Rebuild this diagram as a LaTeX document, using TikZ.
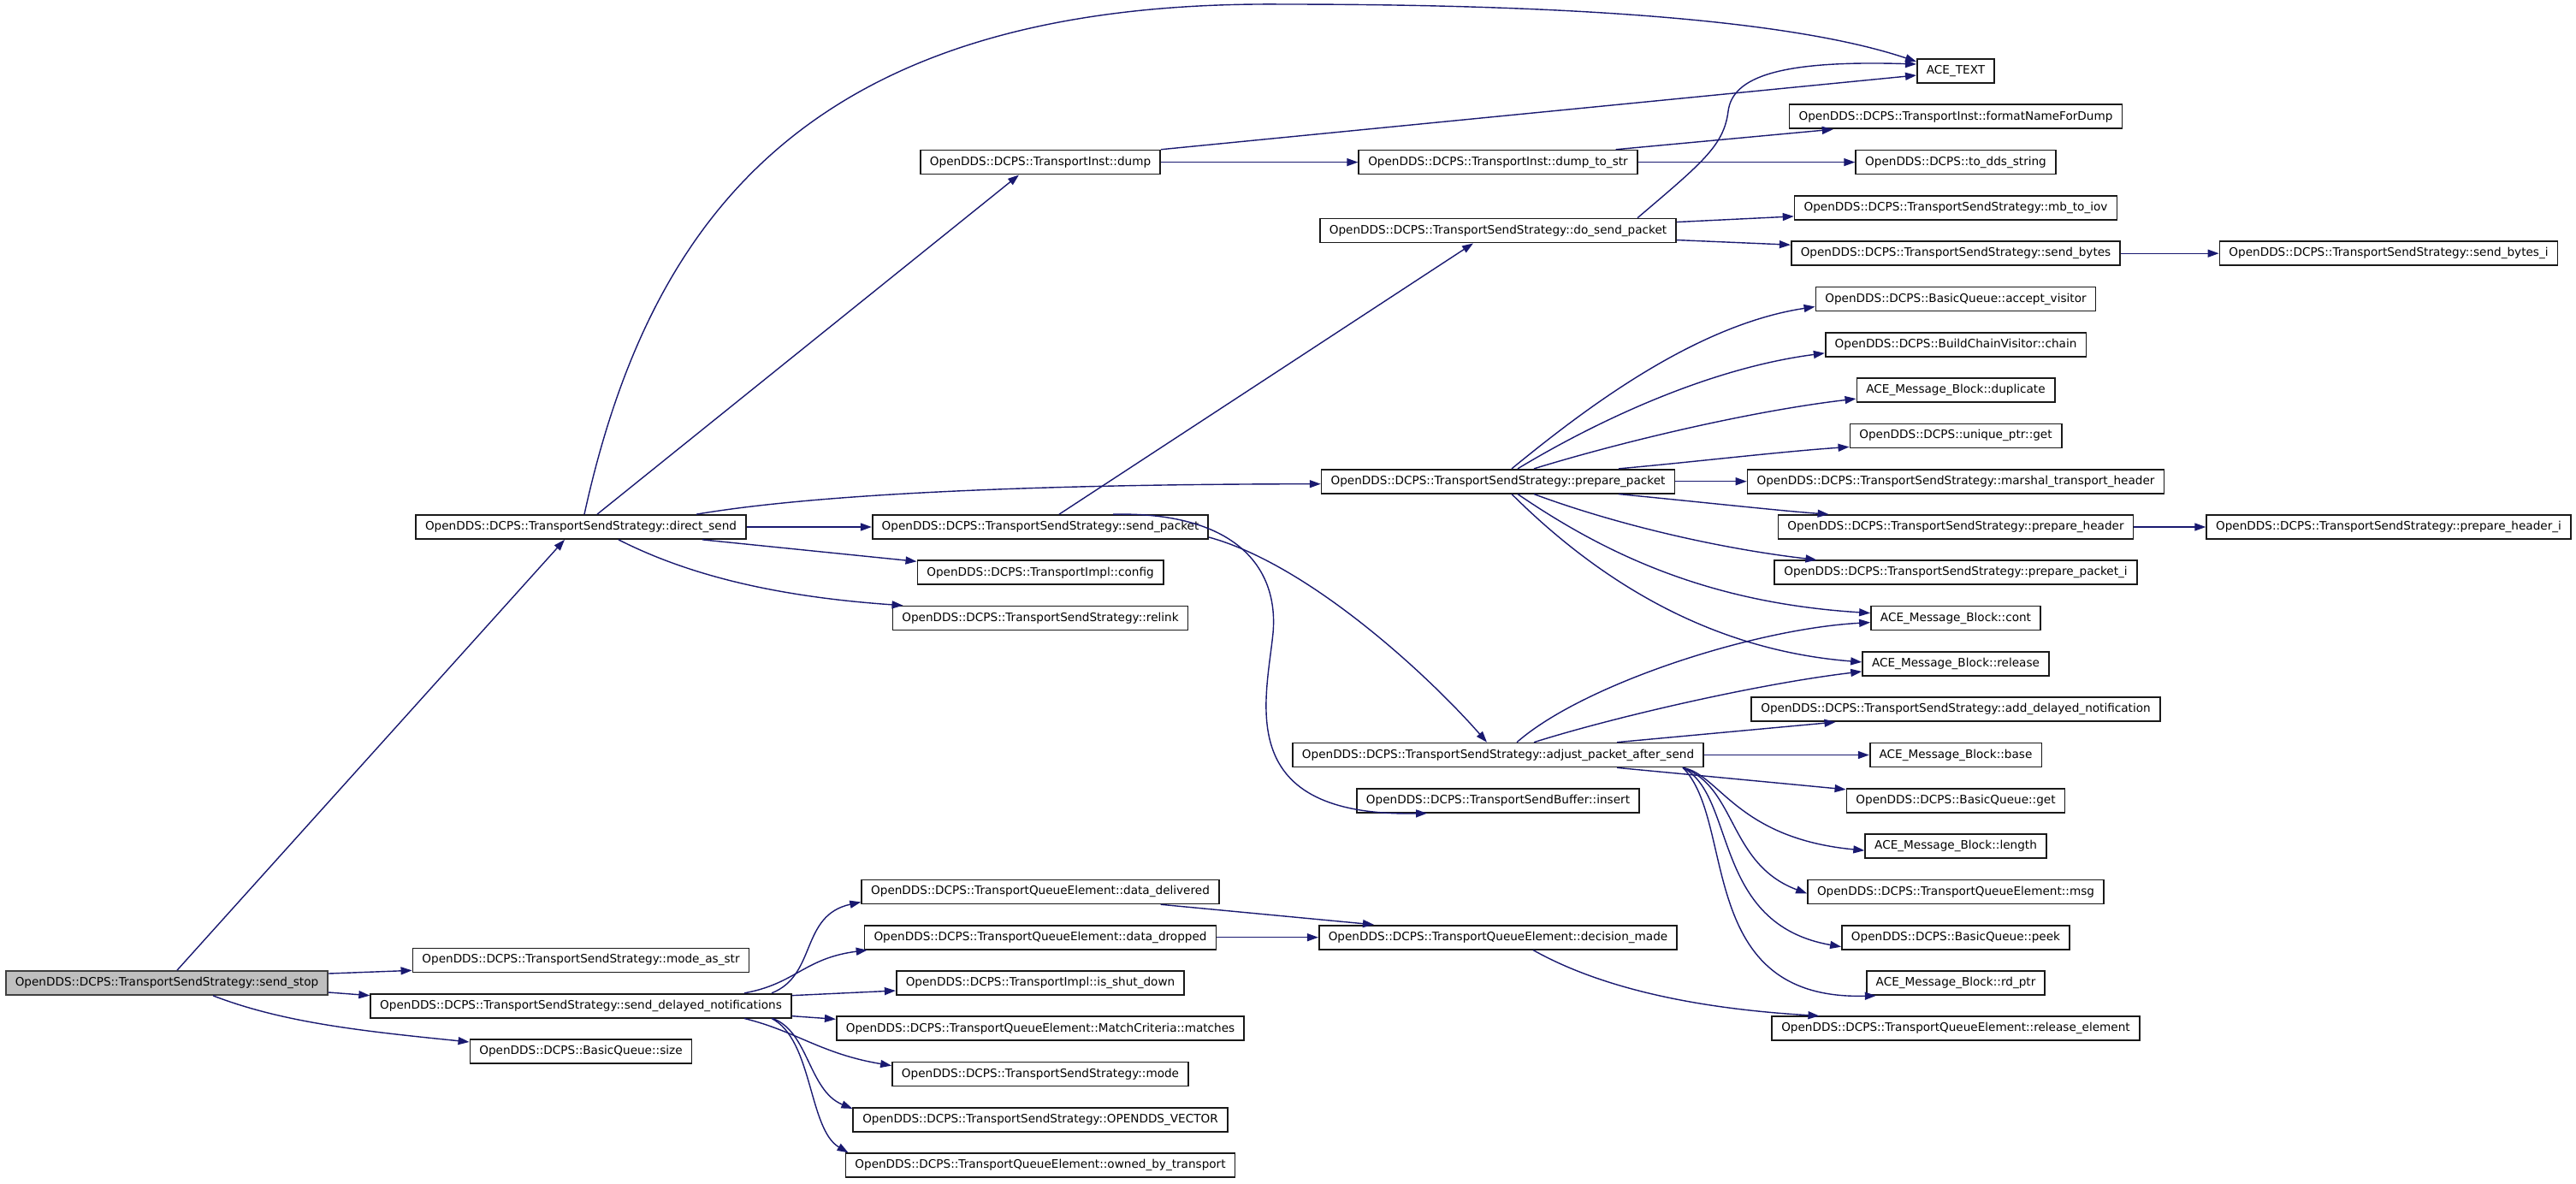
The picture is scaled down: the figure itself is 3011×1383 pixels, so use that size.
\documentclass[tikz,border=0pt]{standalone}
\usepackage{fontspec}
\newfontfamily\dvs{DejaVu Sans}
\usepackage{xcolor}
\usepackage{tikz}
\usetikzlibrary{arrows.meta}
\definecolor{callblue}{HTML}{191970}
\definecolor{selfgray}{HTML}{BFBFBF}

\begin{document}
\begin{tikzpicture}[x=0.5pt,y=-0.5pt]
      \tikzstyle{func}=[draw=black!90,line width=0.85pt,fill=white,minimum height=14pt,inner xsep=5.5pt,inner ysep=0pt,font=\dvs\fontsize{6.8}{8}\selectfont]
      \tikzstyle{self}=[func,draw=black!75,fill=selfgray]
      \tikzstyle{call}=[draw=callblue,line width=0.7pt,-{Triangle[length=6.5pt,width=4.5pt]}]
      \useasboundingbox (0,0) rectangle (3011,1383);
      \node[self] (ss) at (195,1149) {OpenDDS::DCPS::TransportSendStrategy::send\_stop};
      \node[func] (ds) at (679,616) {OpenDDS::DCPS::TransportSendStrategy::direct\_send};
      \node[func] (mas) at (679,1122.35) {OpenDDS::DCPS::TransportSendStrategy::mode\_as\_str};
      \node[func] (sdn) at (679,1175.65) {OpenDDS::DCPS::TransportSendStrategy::send\_delayed\_notifications};
      \node[func] (qsize) at (679,1228.95) {OpenDDS::DCPS::BasicQueue::size};
      \node[func] (dump) at (1216,189.6) {OpenDDS::DCPS::TransportInst::dump};
      \node[func] (sp) at (1216,616) {OpenDDS::DCPS::TransportSendStrategy::send\_packet};
      \node[func] (cfg) at (1216,669.3) {OpenDDS::DCPS::TransportImpl::config};
      \node[func] (relink) at (1216,722.6) {OpenDDS::DCPS::TransportSendStrategy::relink};
      \node[func] (dd) at (1216,1042.4) {OpenDDS::DCPS::TransportQueueElement::data\_delivered};
      \node[func] (ddr) at (1216,1095.7) {OpenDDS::DCPS::TransportQueueElement::data\_dropped};
      \node[func] (isd) at (1216,1149) {OpenDDS::DCPS::TransportImpl::is\_shut\_down};
      \node[func] (mcm) at (1216,1202.3) {OpenDDS::DCPS::TransportQueueElement::MatchCriteria::matches};
      \node[func] (mode) at (1216,1255.6) {OpenDDS::DCPS::TransportSendStrategy::mode};
      \node[func] (ovec) at (1216,1308.9) {OpenDDS::DCPS::TransportSendStrategy::OPENDDS\_VECTOR};
      \node[func] (obt) at (1216,1362.2) {OpenDDS::DCPS::TransportQueueElement::owned\_by\_transport};
      \node[func] (dts) at (1751,189.6) {OpenDDS::DCPS::TransportInst::dump\_to\_str};
      \node[func] (dsp) at (1751,269.55) {OpenDDS::DCPS::TransportSendStrategy::do\_send\_packet};
      \node[func] (pp) at (1751,562.7) {OpenDDS::DCPS::TransportSendStrategy::prepare\_packet};
      \node[func] (apas) at (1751,882.5) {OpenDDS::DCPS::TransportSendStrategy::adjust\_packet\_after\_send};
      \node[func] (sbins) at (1751,935.8) {OpenDDS::DCPS::TransportSendBuffer::insert};
      \node[func] (dm) at (1751,1095.7) {OpenDDS::DCPS::TransportQueueElement::decision\_made};
      \node[func] (acetext) at (2286,83) {ACE\_TEXT};
      \node[func] (fnfd) at (2286,136.3) {OpenDDS::DCPS::TransportInst::formatNameForDump};
      \node[func] (tdds) at (2286,189.6) {OpenDDS::DCPS::to\_dds\_string};
      \node[func] (mbiov) at (2286,242.9) {OpenDDS::DCPS::TransportSendStrategy::mb\_to\_iov};
      \node[func] (sbytes) at (2286,296.2) {OpenDDS::DCPS::TransportSendStrategy::send\_bytes};
      \node[func] (accv) at (2286,349.5) {OpenDDS::DCPS::BasicQueue::accept\_visitor};
      \node[func] (bcvc) at (2286,402.8) {OpenDDS::DCPS::BuildChainVisitor::chain};
      \node[func] (dup) at (2286,456.1) {ACE\_Message\_Block::duplicate};
      \node[func] (upget) at (2286,509.4) {OpenDDS::DCPS::unique\_ptr::get};
      \node[func] (mth) at (2286,562.7) {OpenDDS::DCPS::TransportSendStrategy::marshal\_transport\_header};
      \node[func] (ph) at (2286,616) {OpenDDS::DCPS::TransportSendStrategy::prepare\_header};
      \node[func] (ppi) at (2286,669.3) {OpenDDS::DCPS::TransportSendStrategy::prepare\_packet\_i};
      \node[func] (cont) at (2286,722.6) {ACE\_Message\_Block::cont};
      \node[func] (rel) at (2286,775.9) {ACE\_Message\_Block::release};
      \node[func] (adn) at (2286,829.2) {OpenDDS::DCPS::TransportSendStrategy::add\_delayed\_notification};
      \node[func] (base) at (2286,882.5) {ACE\_Message\_Block::base};
      \node[func] (qget) at (2286,935.8) {OpenDDS::DCPS::BasicQueue::get};
      \node[func] (len) at (2286,989.1) {ACE\_Message\_Block::length};
      \node[func] (msg) at (2286,1042.4) {OpenDDS::DCPS::TransportQueueElement::msg};
      \node[func] (peek) at (2286,1095.7) {OpenDDS::DCPS::BasicQueue::peek};
      \node[func] (rdptr) at (2286,1149) {ACE\_Message\_Block::rd\_ptr};
      \node[func] (rele) at (2286,1202.3) {OpenDDS::DCPS::TransportQueueElement::release\_element};
      \node[func] (sbi) at (2792,296.2) {OpenDDS::DCPS::TransportSendStrategy::send\_bytes\_i};
      \node[func] (phi) at (2792,616) {OpenDDS::DCPS::TransportSendStrategy::prepare\_header\_i};
      \draw[call] ([shift={(12,0)}]ss.north) -- ([shift={(-19,0)}]ds.south);
      \draw[call] ([shift={(0,-11)}]ss.east) -- ([shift={(0,12)}]mas.west);
      \draw[call] ([shift={(0,11)}]ss.east) -- ([shift={(0,-12)}]sdn.west);
      \draw[call] ([shift={(54,0)}]ss.south) .. controls (330,1195) and (420,1205) .. ([shift={(0,-11)}]qsize.west);
      \draw[call] ([shift={(4,0)}]ds.north) .. controls (760,250) and (950,0) .. (1500,5) .. controls (1850,5) and (2100,25) .. ([shift={(0,-11)}]acetext.west);
      \draw[call] ([shift={(19,0)}]ds.north) -- ([shift={(-25,0)}]dump.south);
      \draw[call] ([shift={(135,0)}]ds.north) .. controls (950,578) and (1200,566) .. ([shift={(0,3)}]pp.west);
      \draw[call] (ds) -- (sp);
      \draw[call] ([shift={(142,0)}]ds.south) -- ([shift={(0,-13)}]cfg.west);
      \draw[call] ([shift={(44,0)}]ds.south) .. controls (800,670) and (900,697) .. ([shift={(13,0)}]relink.north west);
      \draw[call] (dump.north east) -- ([shift={(0,5)}]acetext.west);
      \draw[call] (dump) -- (dts);
      \draw[call] ([shift={(-26,0)}]dts.north east) -- ([shift={(52,0)}]fnfd.south west);
      \draw[call] (dts) -- (tdds);
      \draw[call] ([shift={(22,0)}]sp.north) -- ([shift={(-29,0)}]dsp.south);
      \draw[call] ([shift={(0,12)}]sp.east) .. controls (1530,660) and (1670,790) .. ([shift={(-13,0)}]apas.north);
      \draw[call] ([shift={(85,0)}]sp.north) .. controls (1440,598) and (1495,660) .. (1488,740) .. controls (1480,820) and (1440,955) .. ([shift={(83,0)}]sbins.south west);
      \draw[call] ([shift={(-46,0)}]dsp.north east) .. controls (1990,190) and (2015,170) .. (2020,130) .. controls (2025,90) and (2080,70) .. ([shift={(0,-8)}]acetext.west);
      \draw[call] ([shift={(0,-10)}]dsp.east) -- ([shift={(0,10)}]mbiov.west);
      \draw[call] ([shift={(0,11)}]dsp.east) -- ([shift={(0,-10)}]sbytes.west);
      \draw[call] (sbytes) -- (sbi);
      \draw[call] ([shift={(16,0)}]pp.north) .. controls (1850,480) and (1980,380) .. ([shift={(0,9)}]accv.west);
      \draw[call] ([shift={(23,0)}]pp.north) .. controls (1870,490) and (2000,430) .. ([shift={(0,10)}]bcvc.west);
      \draw[call] ([shift={(42,0)}]pp.north) .. controls (1900,515) and (2050,480) .. ([shift={(0,10)}]dup.west);
      \draw[call] ([shift={(141,0)}]pp.north) .. controls (1980,540) and (2080,528) .. ([shift={(0,13)}]upget.west);
      \draw[call] (pp) -- (mth);
      \draw[call] ([shift={(141,0)}]pp.south) .. controls (1980,586) and (2080,597) .. ([shift={(60,0)}]ph.north west);
      \draw[call] ([shift={(42,0)}]pp.south) .. controls (1880,610) and (2000,640) .. ([shift={(50,0)}]ppi.north west);
      \draw[call] ([shift={(23,0)}]pp.south) .. controls (1880,650) and (2000,705) .. ([shift={(0,-6)}]cont.west);
      \draw[call] ([shift={(16,0)}]pp.south) .. controls (1870,680) and (2000,760) .. ([shift={(0,-2)}]rel.west);
      \draw[call] (ph) -- (phi);
      \draw[call] ([shift={(22,0)}]apas.north) .. controls (1850,800) and (2050,735) .. ([shift={(0,5)}]cont.west);
      \draw[call] ([shift={(42,0)}]apas.north) .. controls (1880,840) and (2050,800) .. ([shift={(0,9)}]rel.west);
      \draw[call] ([shift={(139,0)}]apas.north) -- ([shift={(99,0)}]adn.south west);
      \draw[call] (apas) -- (base);
      \draw[call] ([shift={(139,0)}]apas.south) -- ([shift={(0,-13)}]qget.west);
      \draw[call] ([shift={(216,0)}]apas.south) .. controls (2010,905) and (2030,980) .. ([shift={(0,5)}]len.west);
      \draw[call] ([shift={(216,0)}]apas.south) .. controls (2030,920) and (2020,1010) .. ([shift={(0,2)}]msg.west);
      \draw[call] ([shift={(216,0)}]apas.south) .. controls (2030,930) and (2000,1080) .. ([shift={(0,11)}]peek.west);
      \draw[call] ([shift={(216,0)}]apas.south) .. controls (2030,960) and (1980,1170) .. ([shift={(12,0)}]rdptr.south west);
      \draw[call] ([shift={(223,0)}]sdn.north) .. controls (955,1140) and (935,1070) .. ([shift={(0,12)}]dd.west);
      \draw[call] ([shift={(191,0)}]sdn.north) .. controls (930,1150) and (940,1120) .. ([shift={(4,0)}]ddr.south west);
      \draw[call] ([shift={(0,-12)}]sdn.east) -- ([shift={(0,9)}]isd.west);
      \draw[call] ([shift={(0,12)}]sdn.east) -- ([shift={(0,-11)}]mcm.west);
      \draw[call] ([shift={(191,0)}]sdn.south) .. controls (930,1205) and (960,1232) .. ([shift={(0,-10)}]mode.west);
      \draw[call] ([shift={(224,0)}]sdn.south) .. controls (945,1205) and (945,1275) .. ([shift={(0,-13)}]ovec.west);
      \draw[call] ([shift={(223,0)}]sdn.south) .. controls (950,1215) and (945,1320) .. ([shift={(4,0)}]obt.north west);
      \draw[call] ([shift={(-69,0)}]dd.south east) -- ([shift={(65,0)}]dm.north west);
      \draw[call] (ddr) -- (dm);
      \draw[call] ([shift={(41,0)}]dm.south) .. controls (1880,1160) and (2000,1180) .. ([shift={(56,0)}]rele.north west);
\end{tikzpicture}
\end{document}
